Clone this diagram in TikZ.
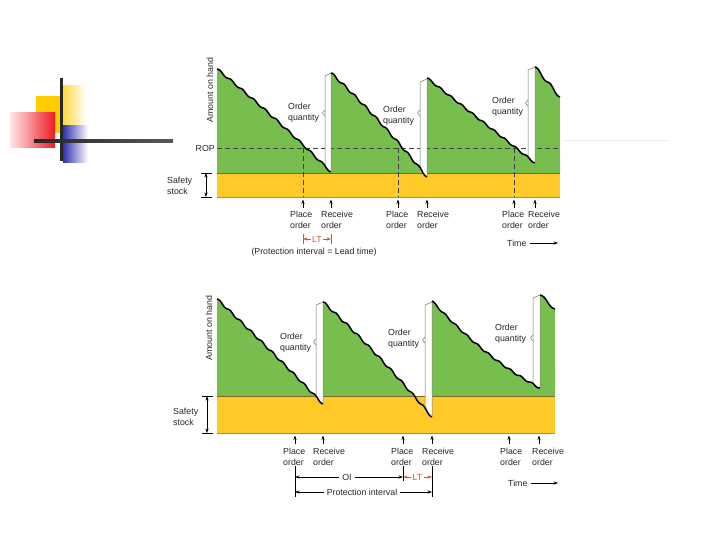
\documentclass[tikz,border=0pt]{standalone}
\usepackage{fontspec}
\setmainfont{Liberation Sans}
\usetikzlibrary{arrows.meta}

\definecolor{stockgreen}{RGB}{120,190,78}
\definecolor{safetyyellow}{RGB}{255,202,40}
\definecolor{bandline}{RGB}{120,105,40}
\definecolor{ltred}{RGB}{225,80,45}
\definecolor{slidegold}{RGB}{255,204,0}
\definecolor{slidered}{RGB}{240,25,35}
\definecolor{slideblue}{RGB}{50,50,175}

% one saw-tooth stretch of stock: x0 y0 x1 y1 waves bend
\newcommand\stockcurve[6]{plot[domain=0:1,samples=100,variable=\t]
  ({#1+(#3-#1)*\t},{#2+(#4-#2)*(\t-0.105*sin(360*#5*\t)/#5)+#6*\t*(1-\t)})}

\tikzset{
  lbl/.style={font=\fontsize{8.8}{11}\selectfont,inner sep=0pt,align=left,text=black!85},
  stockline/.style={line width=1.5pt,black},
  stripline/.style={black!55,line width=0.5pt},
  ropline/.style={dash pattern=on 5pt off 3pt,black!75,line width=0.6pt},
  tick/.style={-{Stealth[length=4.5pt,width=3.2pt]},line width=0.55pt},
  dimline/.style={{Stealth[length=4.5pt,width=3.2pt]}-{Stealth[length=4.5pt,width=3.2pt]},line width=0.55pt}
}

\begin{document}
\begin{tikzpicture}[x=1pt,y=-1pt]
\useasboundingbox (0,0) rectangle (720,540);
\fill[white] (0,0) rectangle (720,540);

% slide corner
\fill[slidegold] (36,96) rectangle (61,133);
\shade[left color=slidegold!75,right color=white] (63,86) rectangle (86,125);
\shade[left color=slidered!10,right color=slidered] (10,113) rectangle (55,148);
\shade[left color=slideblue,right color=white] (63,126) rectangle (88,163);
\draw[line width=3pt,black!85] (61,78) -- (61,161);
\shade[left color=black!85,right color=black!65] (34,139.5) rectangle (173,142.5);
\draw[black!7,line width=1pt] (563,141) -- (670,141);

%%% upper chart: protection over lead time
\foreach \xa/\ya/\xb/\yb/\n/\c in {217/69/331/172/10/-10,331/73/427/177/9/-15,427/78/535/163/10/0,535/67/560/97/2/0}{
  \fill[stockgreen] \stockcurve{\xa}{\ya}{\xb}{\yb}{\n}{\c} -- (\xb,173) -- (\xa,173) -- cycle;
}
\fill[safetyyellow] (217,173) rectangle (560,197);
\draw[bandline,line width=0.7pt] (217,173) -- (560,173);
\draw[black!45,line width=0.5pt] (217,197) -- (560,197);

\coordinate (ropL) at (217,148);
\coordinate (ropR) at (560,148);
\draw[ropline] (ropL) -- (ropR);
\foreach \x in {303,398,514}{
  \draw[ropline] (\x,148) -- (\x,197);
}

\foreach \xl/\xr/\yt/\yb/\ym in {325/331/73/172/113,420/427/79/177/113,528/535/67/163/103}{
  \fill[white] (\xl,\yt+3) -- (\xr,\yt) -- (\xr,\yb) -- (\xl,\yb-6) -- cycle;
  \draw[stripline] (\xl,\yb-6) -- (\xl,\yt+3) -- (\xr,\yt) -- (\xr,\yb);
  \draw[stripline] (\xl,\ym-3) -- (\xl-2.5,\ym) -- (\xl,\ym+3);
}
\foreach \xa/\ya/\xb/\yb/\n/\c in {217/69/331/172/10/-10,331/73/427/177/9/-15,427/78/535/163/10/0,535/67/560/97/2/0}{
  \draw[stockline] \stockcurve{\xa}{\ya}{\xb}{\yb}{\n}{\c};
}

\node[lbl,rotate=90] (amt1) at (210,90) {Amount on hand};
\node[lbl,anchor=east] (rop) at (215,148) {ROP};
\node[lbl,anchor=west] (ss1) at (167,186) {Safety\\stock};
\coordinate (ss1t) at (206,173);
\coordinate (ss1b) at (206,197);
\draw[dimline] (ss1t) -- (ss1b);
\draw[line width=0.5pt] (201,173) -- (212,173) (201,197) -- (212,197);

\node[lbl,anchor=west] (oq1) at (288,112.5) {Order\\quantity};
\node[lbl,anchor=west] (oq2) at (383,116) {Order\\quantity};
\node[lbl,anchor=west] (oq3) at (492,106.5) {Order\\quantity};

\foreach \x in {303,331,398,427,514,535}{
  \draw[tick] (\x,208) -- (\x,199.5);
}
\node[lbl,anchor=west] (place1) at (290,219.5) {Place\\order};
\node[lbl,anchor=west] (recv1) at (321,219.5) {Receive\\order};
\node[lbl,anchor=west] (place2) at (386,219.5) {Place\\order};
\node[lbl,anchor=west] (recv2) at (417,219.5) {Receive\\order};
\node[lbl,anchor=west] (place3) at (502,219.5) {Place\\order};
\node[lbl,anchor=west] (recv3) at (528,219.5) {Receive\\order};

\coordinate (lt1a) at (303,239);
\coordinate (lt1b) at (331,239);
\node[lbl,text=ltred,fill=white,inner xsep=1pt] (lt1) at (317,239) {LT};
\draw[tick,ltred] (lt1.west) -- (lt1a);
\draw[tick,ltred] (lt1.east) -- (lt1b);
\draw[ltred,line width=0.5pt] (303,234) -- (303,244) (331,234) -- (331,244);
\node[lbl] (pi1) at (314,252) {(Protection interval = Lead time)};

\node[lbl,anchor=west] (time1) at (507,243) {Time};
\coordinate (time1end) at (558,243);
\draw[tick] ([xshift=3pt]time1.east) -- (time1end);

%%% lower chart: protection over OI + LT
\foreach \xa/\ya/\xb/\yb/\n/\c in {217/299/323/404/10/-5,323/302/432/417/10/-15,432/301/540/388/10/30,540/295/555/309/1/0}{
  \fill[stockgreen] \stockcurve{\xa}{\ya}{\xb}{\yb}{\n}{\c} -- (\xb,396) -- (\xa,396) -- cycle;
}
\fill[safetyyellow] (217,396) rectangle (555,433);
\draw[bandline,line width=0.7pt] (217,396) -- (555,396);
\draw[black!45,line width=0.5pt] (217,433) -- (555,433);

\foreach \xl/\xr/\yt/\yb/\ym in {316/323/302/404/342,425/432/302/417/340,533/540/295/388/338}{
  \fill[white] (\xl,\yt+3) -- (\xr,\yt) -- (\xr,\yb) -- (\xl,\yb-6) -- cycle;
  \draw[stripline] (\xl,\yb-6) -- (\xl,\yt+3) -- (\xr,\yt) -- (\xr,\yb);
  \draw[stripline] (\xl,\ym-3) -- (\xl-2.5,\ym) -- (\xl,\ym+3);
}
\foreach \xa/\ya/\xb/\yb/\n/\c in {217/299/323/404/10/-5,323/302/432/417/10/-15,432/301/540/388/10/30,540/295/555/309/1/0}{
  \draw[stockline] \stockcurve{\xa}{\ya}{\xb}{\yb}{\n}{\c};
}

\node[lbl,rotate=90] (amt2) at (209,328) {Amount on hand};
\node[lbl,anchor=west] (ss2) at (173,416.5) {Safety\\stock};
\coordinate (ss2t) at (207,396);
\coordinate (ss2b) at (207,433);
\draw[dimline] (ss2t) -- (ss2b);
\draw[line width=0.5pt] (202,396) -- (213,396) (202,433) -- (213,433);

\node[lbl,anchor=west] (oq4) at (280,342.5) {Order\\quantity};
\node[lbl,anchor=west] (oq5) at (388,338.5) {Order\\quantity};
\node[lbl,anchor=west] (oq6) at (495,333.5) {Order\\quantity};

\foreach \x in {295,323,403,432,509,539}{
  \draw[tick] (\x,444) -- (\x,435.5);
}
\node[lbl,anchor=west] (place4) at (283,456.5) {Place\\order};
\node[lbl,anchor=west] (recv4) at (313,456.5) {Receive\\order};
\node[lbl,anchor=west] (place5) at (391,456.5) {Place\\order};
\node[lbl,anchor=west] (recv5) at (422,456.5) {Receive\\order};
\node[lbl,anchor=west] (place6) at (500,456.5) {Place\\order};
\node[lbl,anchor=west] (recv6) at (532,456.5) {Receive\\order};

\draw[line width=0.5pt] (295,466) -- (295,497) (403,466) -- (403,481) (432,466) -- (432,497);
\coordinate (oia) at (295,477);
\coordinate (oib) at (403,477);
\node[lbl,fill=white,inner xsep=3pt] (oi) at (347,477) {OI};
\draw[tick] (oi.west) -- (oia);
\draw[tick] (oi.east) -- (oib);
\coordinate (lt2a) at (403,477);
\coordinate (lt2b) at (432,477);
\node[lbl,text=ltred,fill=white,inner xsep=1pt] (lt2) at (417.5,477) {LT};
\draw[tick,ltred] (lt2.west) -- (lt2a);
\draw[tick,ltred] (lt2.east) -- (lt2b);
\coordinate (pia) at (295,492);
\coordinate (pib) at (432,492);
\node[lbl,fill=white,inner xsep=3pt] (pi2) at (362,492) {Protection interval};
\draw[tick] (pi2.west) -- (pia);
\draw[tick] (pi2.east) -- (pib);

\node[lbl,anchor=west] (time2) at (508,483) {Time};
\coordinate (time2end) at (558,483);
\draw[tick] ([xshift=3pt]time2.east) -- (time2end);
\end{tikzpicture}
\end{document}
